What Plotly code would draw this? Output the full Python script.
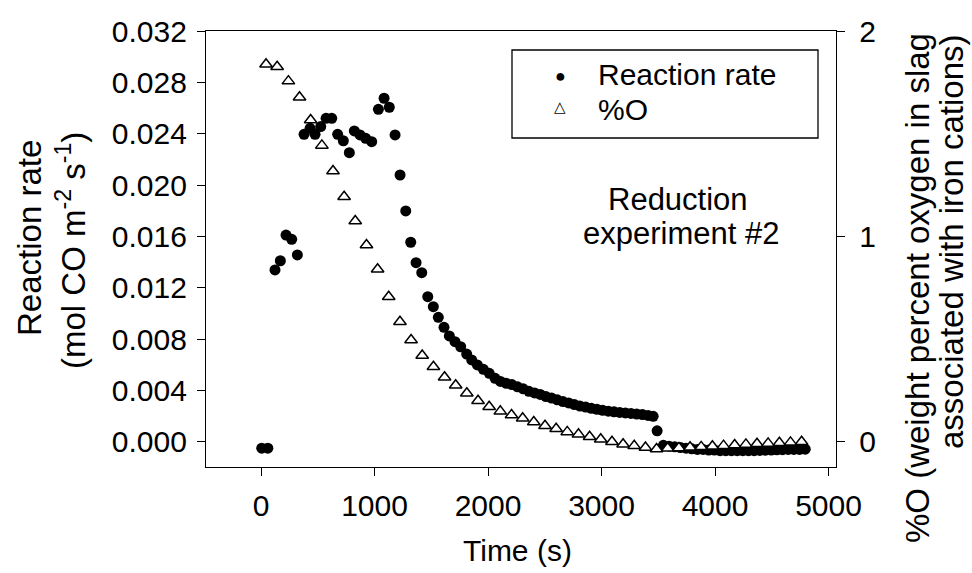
import plotly.graph_objects as go

# ---- data ----
t_rate = [6, 60, 123, 170, 220, 270, 320, 379, 432, 476, 526, 573, 623, 675, 725, 778, 822,
          872, 922, 975, 1034, 1084, 1130, 1181, 1225, 1275, 1319, 1366, 1416, 1469, 1518, 1562,
          1612, 1659, 1709, 1759, 1812, 1856, 1906, 1959, 2011, 2062,
          2110, 2160, 2210, 2260, 2310, 2360, 2410, 2460, 2510, 2560, 2610, 2660, 2710, 2760,
          2810, 2860, 2910, 2960, 3010, 3060, 3110, 3160, 3210, 3260, 3310, 3360, 3410, 3455,
          3490, 3545,
          3595, 3645, 3695, 3745, 3795, 3845, 3895, 3945, 3995, 4045, 4095, 4145, 4195, 4245,
          4295, 4345, 4395, 4445, 4495, 4545, 4595, 4645, 4695, 4745, 4795]
rate = [-0.0005, -0.0005, 0.01338, 0.0141, 0.0161, 0.01577, 0.01455, 0.02395, 0.02442, 0.02395,
        0.02455, 0.0252, 0.0252, 0.02395, 0.02345, 0.02252, 0.02421,
        0.0239, 0.02364, 0.02338, 0.0259, 0.02676, 0.02606, 0.0239, 0.02078, 0.01798, 0.01554,
        0.01395, 0.01317, 0.0113, 0.01052, 0.00969, 0.00891, 0.00824, 0.00779, 0.0074, 0.00683,
        0.00637, 0.00598, 0.00564, 0.00533, 0.00494,
        0.0047, 0.00455, 0.00445, 0.00428, 0.00412, 0.00393, 0.0038, 0.00368, 0.00352, 0.0034,
        0.00326, 0.00313, 0.00302, 0.0029, 0.00278, 0.0027, 0.0026, 0.00252, 0.00245, 0.00238,
        0.00233, 0.00228, 0.00224, 0.0022, 0.00216, 0.00212, 0.00205, 0.00198,
        0.00085, -0.00028,
        -0.00035, -0.0004, -0.00045, -0.0005, -0.00055, -0.0006, -0.0006, -0.00065, -0.00065,
        -0.0007, -0.0007, -0.0007, -0.0007, -0.0007, -0.0007, -0.0007, -0.00068, -0.00066,
        -0.00065, -0.00063, -0.00062, -0.0006, -0.0006, -0.0006, -0.00058]

t_oxy = [44, 142, 241, 339, 437, 536, 634, 732, 830, 929, 1027, 1125, 1224, 1322, 1420, 1519,
         1617, 1715, 1813, 1912, 2010, 2108, 2207, 2305, 2403, 2502, 2600, 2698, 2797, 2895,
         2993, 3092, 3190, 3288, 3387, 3485, 3583, 3682, 3780, 3878, 3977, 4075, 4173, 4272,
         4370, 4468, 4567, 4665, 4763]
oxy = [1.838, 1.826, 1.756, 1.677, 1.567, 1.443, 1.318, 1.193, 1.075, 0.958, 0.84, 0.706, 0.584,
       0.495, 0.42, 0.365, 0.314, 0.275, 0.236, 0.2, 0.17, 0.148, 0.13, 0.114, 0.096, 0.078,
       0.063, 0.048, 0.036, 0.024, 0.012, 0.0, -0.012, -0.02, -0.028, -0.035, -0.032, -0.03,
       -0.027, -0.025, -0.022, -0.019, -0.016, -0.013, -0.01, -0.008, -0.005, -0.003, 0.0]

x_ticks = [0, 1000, 2000, 3000, 4000, 5000]
y1_ticks = [0.000, 0.004, 0.008, 0.012, 0.016, 0.020, 0.024, 0.028, 0.032]
y2_ticks = [0, 1, 2]

series_names = ["Reaction rate", "%O"]

FONT = "Liberation Sans, Arial, sans-serif"
FS = 30

# plot-area pixel geometry (figure is 972 x 573)
L, R, T, B = 206, 836, 31, 467
W, H = R - L, B - T


def px(x):
    return (x - L) / W


def py(y):
    return (B - y) / H


fig = go.Figure()
fig.add_trace(go.Scatter(x=t_rate, y=rate, mode="markers", name=series_names[0],
                         marker=dict(symbol="circle", size=11, color="black"),
                         showlegend=False, yaxis="y"))
fig.add_trace(go.Scatter(x=t_oxy, y=oxy, mode="markers", name=series_names[1],
                         marker=dict(symbol="triangle-up", size=11, color="white",
                                     line=dict(color="black", width=1.5)),
                         showlegend=False, yaxis="y2"))

axis_common = dict(showgrid=False, zeroline=False, showline=True, linecolor="black",
                   linewidth=1.3, ticks="outside", ticklen=8, tickcolor="black",
                   tickwidth=1.3, tickfont=dict(family=FONT, size=FS, color="black"))


def ann(text, x, y, size, angle=0):
    return dict(text=text, xref="paper", yref="paper", x=px(x), y=py(y), showarrow=False,
                xanchor="center", yanchor="middle", textangle=angle,
                font=dict(family=FONT, size=size, color="black"))


def ann_left(text, x, y, size):
    return dict(text=text, xref="paper", yref="paper", x=px(x), y=py(y), showarrow=False,
                xanchor="left", yanchor="middle",
                font=dict(family=FONT, size=size, color="black"))


annotations = [
    ann("Reduction", 678, 199, 31),
    ann("experiment #2", 681, 233, 31),
    ann("Reaction rate", 29, 238, 33, -90),
    ann("(mol CO m<sup>-2</sup> s<sup>-1</sup>)", 71, 251, 33, -90),
    ann("%O (weight percent oxygen in slag", 917, 288, 33, -90),
    ann("associated with iron cations)", 951, 242, 33, -90),
    ann("Time (s)", 517, 550, FS),
    # manual legend
    ann("\u25CF", 560, 76, 18),
    ann("\u25B3", 560, 107, 15),
    ann_left(series_names[0], 596, 75, 30),
    ann_left(series_names[1], 596, 109, 30),
]

fig.update_layout(
    width=972, height=573,
    margin=dict(l=L, r=972 - R, t=T, b=573 - B),
    paper_bgcolor="white", plot_bgcolor="white",
    font=dict(family=FONT, size=FS, color="black"),
    showlegend=False,
    xaxis=dict(range=[-485, 5066], tickvals=x_ticks, mirror=True, ticklabelstandoff=4,
               **axis_common),
    yaxis=dict(range=[-0.00197, 0.032], tickvals=y1_ticks, tickformat=".3f", mirror=True,
               ticklabelstandoff=4, **axis_common),
    yaxis2=dict(range=[-0.123, 2], tickvals=y2_ticks, overlaying="y", side="right",
                ticklabelstandoff=8, **axis_common),
    shapes=[dict(type="rect", xref="paper", yref="paper", x0=px(512), x1=px(818),
                 y0=py(138), y1=py(50), line=dict(color="black", width=1.3),
                 fillcolor="white", layer="below")],
    annotations=annotations,
)

fig.write_html("out.html")
